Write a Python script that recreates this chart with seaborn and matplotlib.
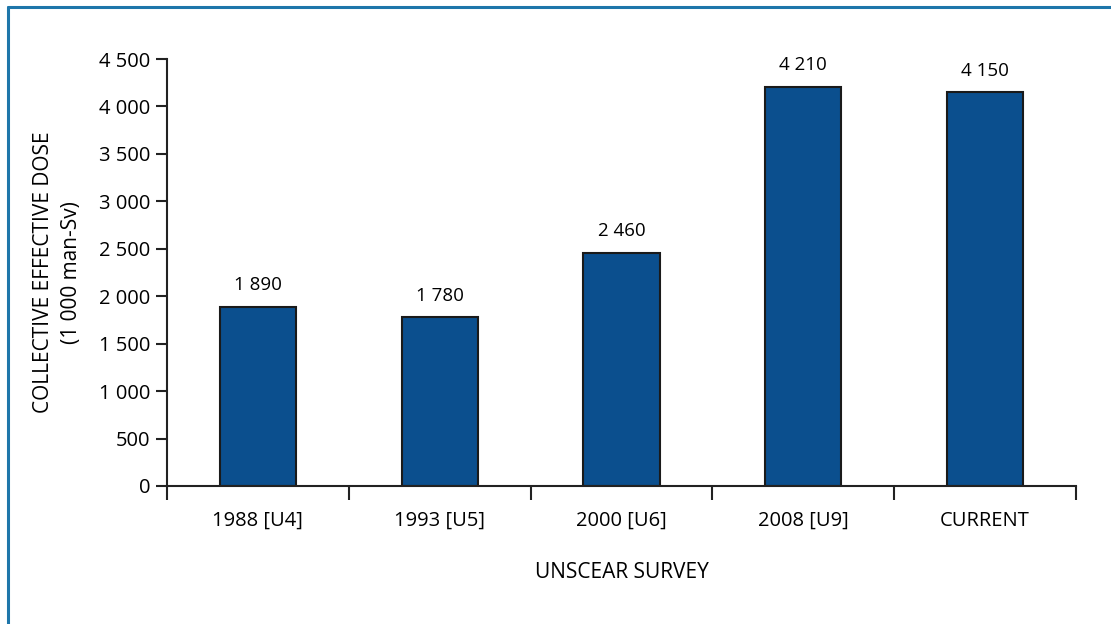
import seaborn as sns
import numpy as np
import matplotlib.pyplot as plt
import pandas as pd
from matplotlib.ticker import FuncFormatter, FixedLocator
from matplotlib.lines import Line2D

surveys = ["1988 [U4]", "1993 [U5]", "2000 [U6]", "2008 [U9]", "CURRENT"]
doses = [1890, 1780, 2460, 4210, 4150]
y_ticks = [0, 500, 1000, 1500, 2000, 2500, 3000, 3500, 4000, 4500]


def espaco_milhar(v, pos=None):
    return f"{int(v):,}".replace(",", " ")


sns.set_style("white")
plt.rcParams["font.family"] = ["Open Sans", "DejaVu Sans"]
plt.rcParams["text.color"] = "black"
plt.rcParams["axes.labelcolor"] = "black"
plt.rcParams["xtick.color"] = "black"
plt.rcParams["ytick.color"] = "black"

df = pd.DataFrame({"Survey": surveys, "Dose": doses})

fig = plt.figure(figsize=(11.11, 6.24), dpi=100)
ax = fig.add_axes([0.1503, 0.2212, 0.8182, 0.6842])

sns.barplot(data=df, x="Survey", y="Dose", color="#0B4F8E", saturation=1,
            width=0.42, edgecolor="#1a1a1a", linewidth=1.5, ax=ax)

ax.set_xlim(-0.5, len(surveys) - 0.5)
ax.set_ylim(0, 4500)
ax.yaxis.set_major_locator(FixedLocator(y_ticks))
ax.yaxis.set_major_formatter(FuncFormatter(espaco_milhar))

# ticks nas fronteiras das categorias
ax.xaxis.set_minor_locator(FixedLocator(np.arange(-0.5, len(surveys), 1.0)))
ax.tick_params(axis="x", which="major", length=0, pad=18, labelsize=14.5)
ax.tick_params(axis="x", which="minor", length=10, width=1.5, color="#222222",
               direction="out", bottom=True)
ax.tick_params(axis="y", length=8, width=1.5, color="#222222", labelsize=14.5,
               left=True, pad=4)

for side in ["top", "right"]:
    ax.spines[side].set_visible(False)
for side in ["left", "bottom"]:
    ax.spines[side].set_color("#222222")
    ax.spines[side].set_linewidth(1.5)

labels = [espaco_milhar(v) for v in doses]
ax.bar_label(ax.containers[0], labels=labels, padding=9, fontsize=13.5)

ax.set_xlabel("UNSCEAR SURVEY", fontsize=15, labelpad=22)
ax.set_ylabel("COLLECTIVE EFFECTIVE DOSE\n(1 000 man-Sv)", fontsize=15,
              labelpad=12, linespacing=1.45)

# moldura azul (topo e esquerda)
frame_color = "#1E76AA"
fig.add_artist(Line2D([7.5 / 1111, 7.5 / 1111], [0, 1 - 7 / 624],
                      color=frame_color, lw=2.2, transform=fig.transFigure))
fig.add_artist(Line2D([7.5 / 1111, 1], [1 - 7 / 624, 1 - 7 / 624],
                      color=frame_color, lw=2.2, transform=fig.transFigure))

plt.savefig("out.png", dpi=100)
plt.close()
